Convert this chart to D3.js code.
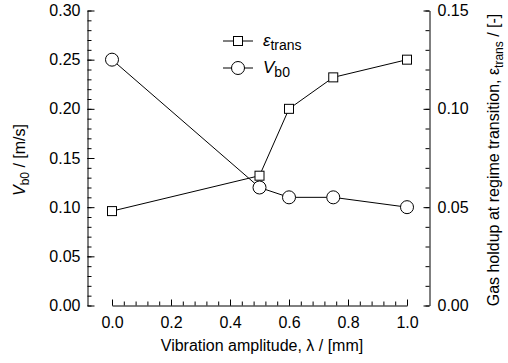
<!DOCTYPE html>
<html><head><meta charset="utf-8">
<script src="https://cdn.jsdelivr.net/npm/d3@7"></script>
<style>body{margin:0;background:#fff}svg{display:block}text{font-family:"Liberation Sans",Arial,sans-serif;fill:#000}</style>
</head><body>
<svg id="c" width="508" height="363"></svg>
<script>
const lambda = [0.0, 0.5, 0.6, 0.75, 1.0];
const epsTrans = [0.048, 0.066, 0.100, 0.116, 0.125];
const vb0 = [0.25, 0.12, 0.11, 0.11, 0.10];
const xTicks = [0, 0.2, 0.4, 0.6, 0.8, 1.0];
const yLTicks = [0, 0.05, 0.10, 0.15, 0.20, 0.25, 0.30];
const yRTicks = [0, 0.05, 0.10, 0.15];

const svg = d3.select("#c");
const x = d3.scaleLinear([0, 1], [112, 407]);
const yL = d3.scaleLinear([0, 0.3], [305.5, 10.5]);
const yR = d3.scaleLinear([0, 0.15], [305.5, 10.5]);
const axL = 87.5, axR = 429.5, axB = 305.5;
const fs = "16px";

function styleAxis(g){ g.selectAll("path,line").attr("stroke","#000").attr("stroke-width",1); g.selectAll("text").style("font-size",fs).style("font-family","'Liberation Sans',Arial,sans-serif"); }

// minor ticks
const range = (a,b,s)=>d3.range(Math.round((b-a)/s)+1).map(i=>+(a+i*s).toFixed(4));
svg.append("g").attr("transform",`translate(${axL},0)`)
  .call(d3.axisLeft(yL).tickValues(range(0,0.3,0.01)).tickSizeInner(-4).tickSizeOuter(0).tickFormat(""))
  .call(g=>g.select(".domain").remove()).call(styleAxis);
svg.append("g").attr("transform",`translate(${axL},0)`)
  .call(d3.axisLeft(yL).tickValues(yLTicks).tickSizeInner(-7).tickSizeOuter(0).tickPadding(7).tickFormat(d3.format(".2f")))
  .call(styleAxis);

svg.append("g").attr("transform",`translate(${axR},0)`)
  .call(d3.axisRight(yR).tickValues(range(0,0.15,0.01)).tickSizeInner(-4).tickSizeOuter(0).tickFormat(""))
  .call(g=>g.select(".domain").remove()).call(styleAxis);
svg.append("g").attr("transform",`translate(${axR},0)`)
  .call(d3.axisRight(yR).tickValues(yRTicks).tickSizeInner(-6).tickSizeOuter(0).tickPadding(8).tickFormat(d3.format(".2f")))
  .call(styleAxis);

svg.append("g").attr("transform",`translate(0,${axB})`)
  .call(d3.axisBottom(x).tickValues(range(0,1,0.04)).tickSizeInner(-4).tickSizeOuter(0).tickFormat(""))
  .call(g=>g.select(".domain").remove()).call(styleAxis);
svg.append("g").attr("transform",`translate(0,${axB})`)
  .call(d3.axisBottom(x).tickValues(xTicks).tickSizeInner(-6).tickSizeOuter(0).tickPadding(11).tickFormat(d3.format(".1f")))
  .call(styleAxis);

// series
const epsData = lambda.map((l,i)=>[l,epsTrans[i]]);
const vData = lambda.map((l,i)=>[l,vb0[i]]);
svg.append("path").datum(epsData).attr("fill","none").attr("stroke","#000").attr("stroke-width",1)
  .attr("d", d3.line().x(d=>x(d[0])).y(d=>yR(d[1])));
svg.append("path").datum(vData).attr("fill","none").attr("stroke","#000").attr("stroke-width",1)
  .attr("d", d3.line().x(d=>x(d[0])).y(d=>yL(d[1])));
const sq = 9;
svg.selectAll("rect.m").data(epsData).join("rect").attr("class","m")
  .attr("x",d=>x(d[0])-sq/2).attr("y",d=>yR(d[1])-sq/2).attr("width",sq).attr("height",sq)
  .attr("fill","#fff").attr("stroke","#000").attr("stroke-width",1);
svg.selectAll("circle.m").data(vData).join("circle").attr("class","m")
  .attr("cx",d=>x(d[0])).attr("cy",d=>yL(d[1])).attr("r",6.5)
  .attr("fill","#fff").attr("stroke","#000").attr("stroke-width",1);

// legend
const lg = svg.append("g");
[[41,"sq","ε","trans"],[68,"ci","V","b0"]].forEach(([yy,m,s,sub])=>{
  lg.append("line").attr("x1",223).attr("x2",253).attr("y1",yy).attr("y2",yy).attr("stroke","#000");
  if(m==="sq") lg.append("rect").attr("x",238-sq/2).attr("y",yy-sq/2).attr("width",sq).attr("height",sq).attr("fill","#fff").attr("stroke","#000");
  else lg.append("circle").attr("cx",238).attr("cy",yy).attr("r",6.5).attr("fill","#fff").attr("stroke","#000");
  const t = lg.append("text").attr("x",263).attr("y",yy+5).style("font-size","17px");
  t.append("tspan").style("font-style","italic").text(s);
  t.append("tspan").attr("dy",4).style("font-size","14px").text(sub);
});

// axis titles
svg.append("text").attr("x",262).attr("y",351).attr("text-anchor","middle").style("font-size",fs)
  .text("Vibration amplitude, λ / [mm]");
const lt = svg.append("text").attr("transform","translate(25,160) rotate(-90)").attr("text-anchor","middle").style("font-size",fs);
lt.append("tspan").style("font-style","italic").text("V");
lt.append("tspan").attr("dy",4).style("font-size","12px").text("b0");
lt.append("tspan").attr("dy",-4).text(" / [m/s]");
const rt = svg.append("text").attr("transform","translate(499,160) rotate(-90)").attr("text-anchor","middle").style("font-size",fs);
rt.append("tspan").text("Gas holdup at regime transition, ε");
rt.append("tspan").attr("dy",4).style("font-size","12px").text("trans");
rt.append("tspan").attr("dy",-4).text(" / [-]");
</script>
</body></html>
